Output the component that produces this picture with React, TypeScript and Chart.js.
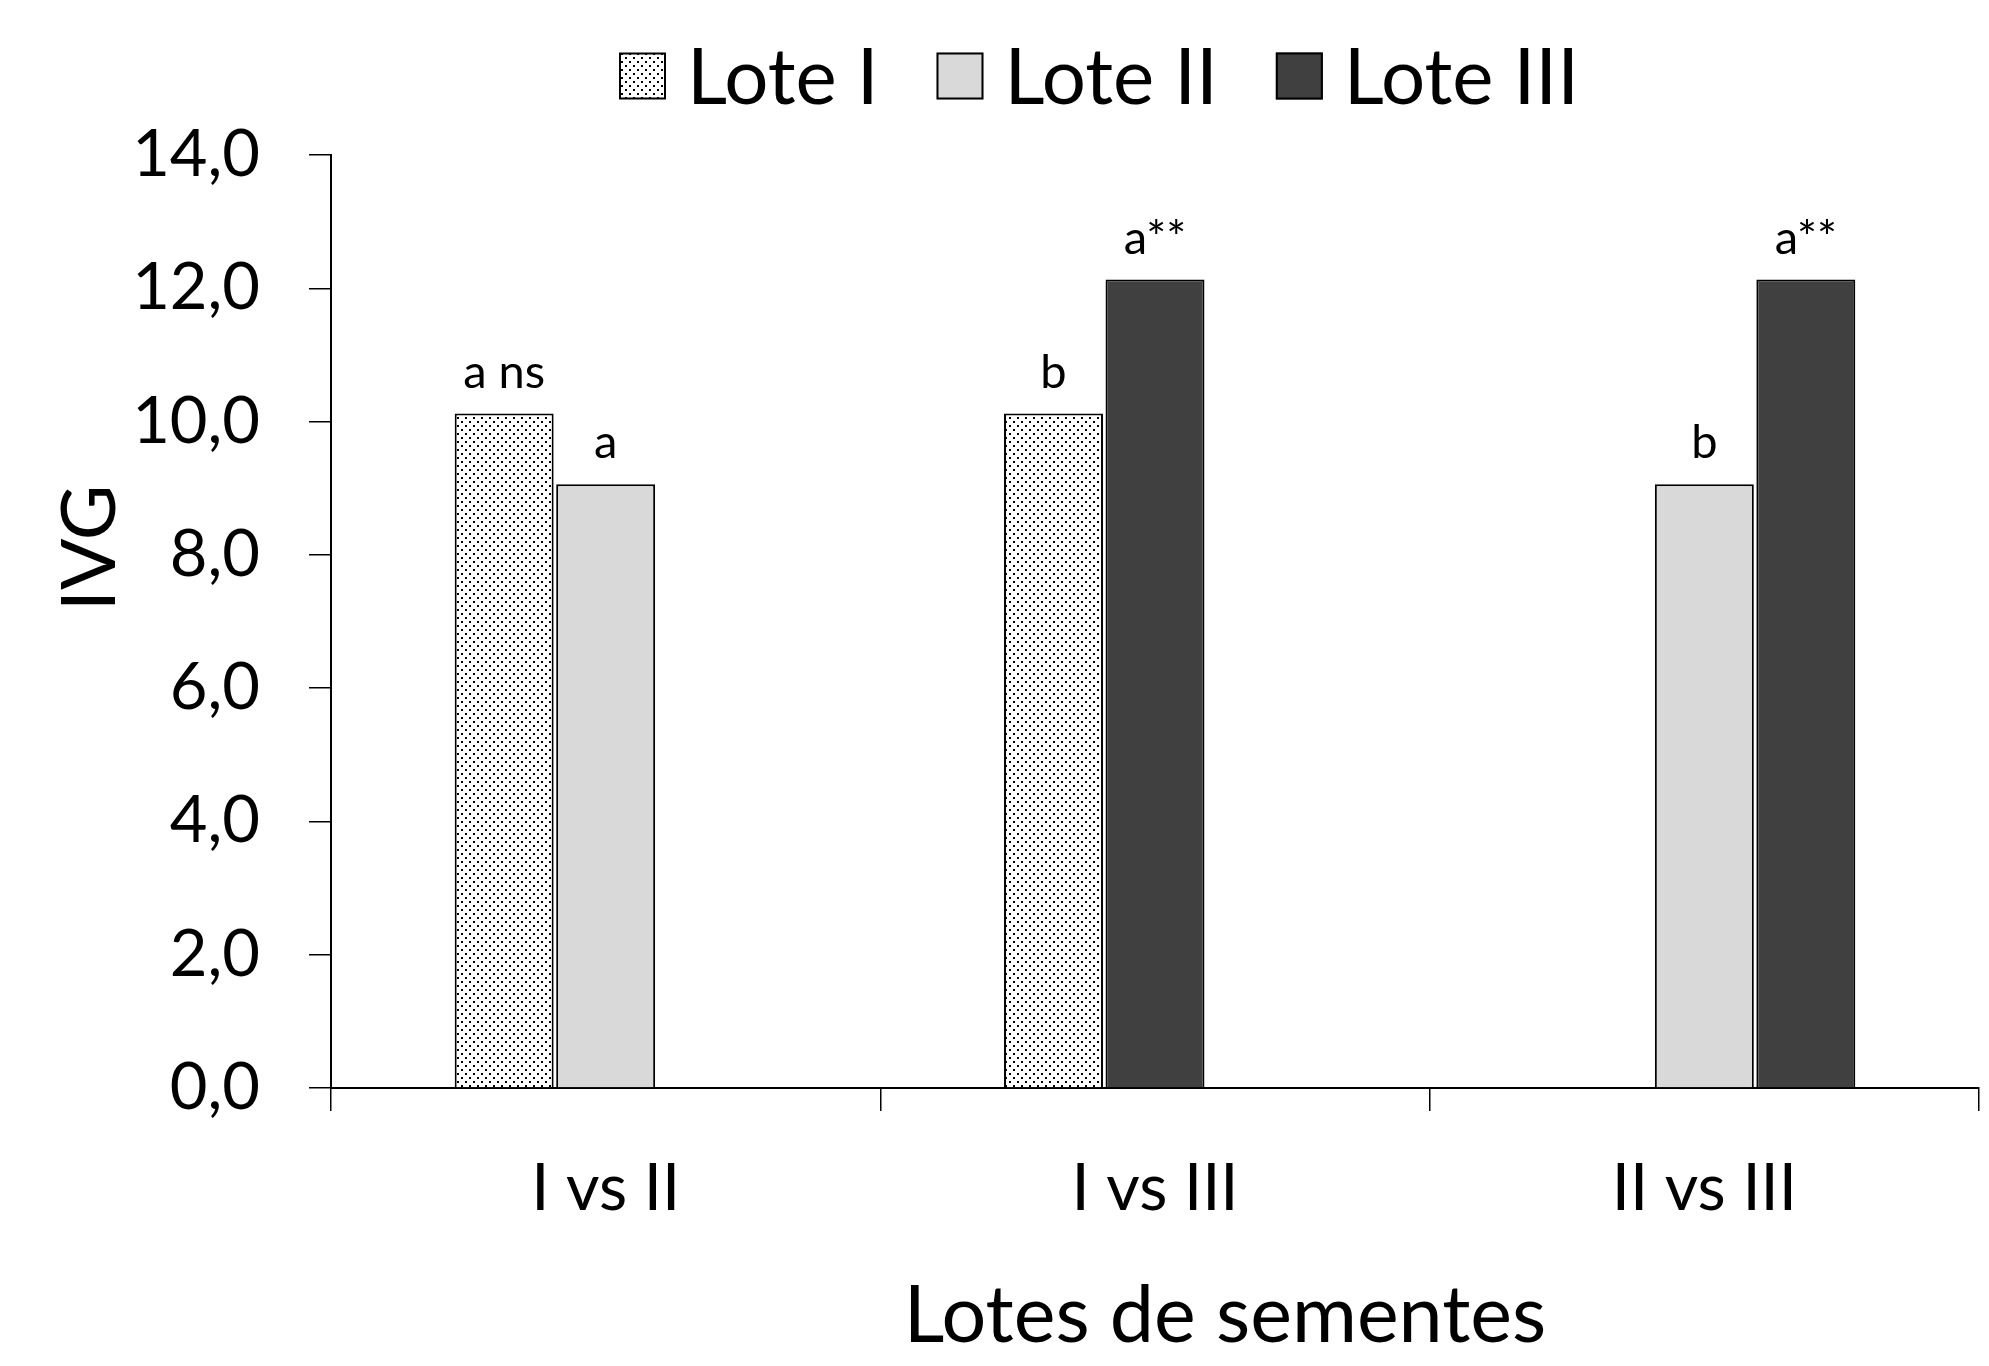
import React, { useEffect, useRef } from "react";
import { Chart, registerables } from "chart.js";

Chart.register(...registerables);

const categories = ["I vs II", "I vs III", "II vs III"];
const seriesNames = ["Lote I", "Lote II", "Lote III"];
const loteI = [10.12, 10.12, null];
const loteII = [9.06, null, 9.06];
const loteIIIa = [null, 12.13, null];
const loteIIIb = [null, null, 12.13];
const labelsLoteI = ["a ns", "b", ""];
const labelsLoteII = ["a", "", "b"];
const labelsLoteIIIa = ["", "a**", ""];
const labelsLoteIIIb = ["", "", "a**"];
const yTicks = [0, 2, 4, 6, 8, 10, 12, 14];
const yTitle = "IVG";
const xTitle = "Lotes de sementes";

const FONT = "Lato";

function makeDotPattern(): CanvasPattern | string {
  const c = document.createElement("canvas");
  c.width = 8;
  c.height = 8;
  const g = c.getContext("2d");
  if (!g) return "#eeeeee";
  g.fillStyle = "#ffffff";
  g.fillRect(0, 0, 8, 8);
  g.fillStyle = "#000000";
  g.fillRect(1, 1, 2, 2);
  g.fillRect(5, 5, 2, 2);
  const p = g.createPattern(c, "repeat");
  return p || "#eeeeee";
}

export default function App() {
  const ref = useRef<HTMLCanvasElement | null>(null);

  useEffect(() => {
    document.body.style.margin = "0";
    const canvas = ref.current;
    if (!canvas) return;
    const dots = makeDotPattern();
    const fills = [dots, "#d9d9d9", "#404040"];
    const barLabels = [labelsLoteI, labelsLoteII, labelsLoteIIIa, labelsLoteIIIb];

    const annotatePlugin = {
      id: "annotate",
      afterDatasetsDraw(chart: any) {
        const ctx = chart.ctx;
        ctx.save();
        ctx.fillStyle = "#000";
        ctx.font = `47px ${FONT}`;
        ctx.textAlign = "center";
        ctx.textBaseline = "alphabetic";
        chart.data.datasets.forEach((ds: any, di: number) => {
          const meta = chart.getDatasetMeta(di);
          meta.data.forEach((bar: any, i: number) => {
            const t = barLabels[di][i];
            if (!t || ds.data[i] == null) return;
            ctx.fillText(t, bar.x, bar.y - 26);
          });
        });
        ctx.restore();
      },
      afterDraw(chart: any) {
        const ctx = chart.ctx;
        ctx.save();
        // legend
        ctx.font = `78px ${FONT}`;
        ctx.textBaseline = "middle";
        ctx.textAlign = "left";
        let x = 619;
        const cy = 76;
        const box = 47;
        seriesNames.forEach((name, i) => {
          ctx.fillStyle = fills[i];
          ctx.fillRect(x, cy - box / 2, box, box);
          ctx.strokeStyle = "#000";
          ctx.lineWidth = 2;
          ctx.strokeRect(x + 1, cy - box / 2 + 1, box - 2, box - 2);
          x += box + 21;
          ctx.fillStyle = "#000";
          ctx.fillText(name, x, cy + 3);
          x += ctx.measureText(name).width + 58;
        });
        // x title
        ctx.font = `79px ${FONT}`;
        ctx.textAlign = "center";
        ctx.textBaseline = "alphabetic";
        ctx.fillText(xTitle, 1225, 1342);
        // y title
        ctx.translate(115, 548);
        ctx.rotate(-Math.PI / 2);
        ctx.font = `76px ${FONT}`;
        ctx.fillText(yTitle, 0, 0);
        ctx.restore();
      },
    };

    const common = {
      borderColor: "#000000",
      borderWidth: 2,
      categoryPercentage: 0.5543,
      barPercentage: 0.975,
    };

    const chart = new Chart(canvas, {
      type: "bar",
      data: {
        labels: categories,
        datasets: [
          { ...common, label: seriesNames[0], data: loteI, backgroundColor: fills[0], stack: "L" },
          { ...common, label: seriesNames[1], data: loteII, backgroundColor: fills[1], stack: "C" },
          { ...common, label: seriesNames[2], data: loteIIIa, backgroundColor: fills[2], stack: "C" },
          { ...common, label: seriesNames[2] + " ", data: loteIIIb, backgroundColor: fills[2], stack: "R" },
        ],
      },
      options: {
        animation: false,
        responsive: false,
        devicePixelRatio: 1,
        layout: { padding: { top: 155, right: 10, bottom: 0, left: 0 } },
        plugins: {
          legend: { display: false },
          tooltip: { enabled: false },
        },
        scales: {
          x: {
            offset: true,
            grid: {
              offset: true,
              display: true,
              drawOnChartArea: false,
              drawTicks: true,
              tickLength: 23,
              color: "#000",
              lineWidth: 1.5,
            },
            border: { display: true, color: "#000", width: 2 },
            ticks: {
              color: "#000",
              font: { family: FONT, size: 65 },
              padding: 39,
              maxRotation: 0,
            },
            afterFit: (scale: any) => {
              scale.height = 1366 - 1088;
            },
          },
          y: {
            stacked: false,
            min: 0,
            max: 14,
            afterBuildTicks: (scale: any) => {
              scale.ticks = yTicks.map((v) => ({ value: v }));
            },
            grid: {
              display: true,
              drawOnChartArea: false,
              drawTicks: true,
              tickLength: 22,
              color: "#000",
              lineWidth: 1.5,
            },
            border: { display: true, color: "#000", width: 2 },
            ticks: {
              color: "#000",
              font: { family: FONT, size: 65 },
              padding: 49,
              callback: (v: any) => Number(v).toFixed(1).replace(".", ","),
            },
            afterFit: (scale: any) => {
              scale.width = 331;
            },
          },
        },
      },
      plugins: [annotatePlugin],
    });

    return () => chart.destroy();
  }, []);

  return (
    <div style={{ width: 1989, height: 1366, background: "#fff" }}>
      <canvas ref={ref} width={1989} height={1366} style={{ display: "block" }} />
    </div>
  );
}
